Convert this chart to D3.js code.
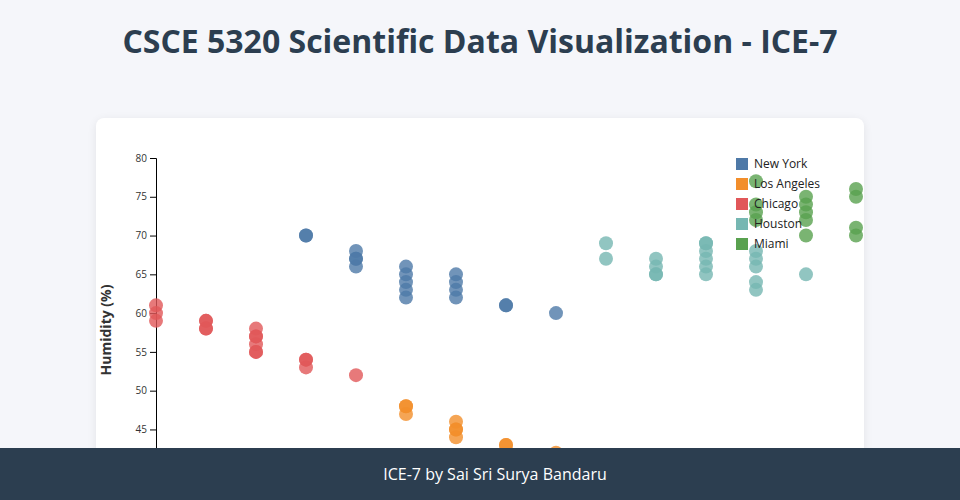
<!DOCTYPE html>
<html>
<head>
<meta charset="utf-8">
<script src="https://cdn.jsdelivr.net/npm/d3@7"></script>
<style>
  body { margin: 0; background: #f5f6fa; font-family: "Open Sans", sans-serif; width: 960px; height: 500px; overflow: hidden; position: relative; }
  h1 { margin: 0; position: absolute; top: 19px; left: 0; width: 960px; text-align: center; font-size: 32px; font-weight: 700; color: #2c3e50; }
  .card { position: absolute; left: 96px; top: 118px; width: 768px; height: 420px; background: #fff; border-radius: 8px; box-shadow: 0 2px 10px rgba(0,0,0,0.08); }
  footer { position: absolute; left: 0; top: 448px; width: 960px; height: 52px; background: #2c3e50; color: #fff; text-align: center; line-height: 52px; font-size: 16px; }
  footer span { position: relative; left: 15px; }
  svg { position: absolute; left: 0; top: 0; }
</style>
</head>
<body>
<h1>CSCE 5320 Scientific Data Visualization - ICE-7</h1>
<div class="card"><svg id="chart" width="768" height="420"></svg></div>
<footer><span>ICE-7 by Sai Sri Surya Bandaru</span></footer>
<script>
// cities + colours
var cities = ['New York', 'Los Angeles', 'Chicago', 'Houston', 'Miami'];
var colors = ['#4e79a7', '#f28e2b', '#e15759', '#76b7b2', '#59a14f'];

// [temperature, humidity] per city
var newYork = [[45,70],[45,70],[50,68],[50,67],[50,67],[50,66],[55,66],[55,65],[55,64],[55,63],[55,62],
               [60,65],[60,64],[60,63],[60,62],[65,61],[65,61],[70,60]];
var losAngeles = [[55,48],[55,48],[55,47],[60,46],[60,45],[60,45],[60,44],[65,43],[65,43],[70,42]];
var chicago = [[30,61],[30,60],[30,59],[35,59],[35,59],[35,58],[35,58],[40,58],[40,57],[40,57],[40,56],
               [40,55],[40,55],[45,54],[45,54],[45,53],[50,52]];
var houston = [[75,69],[75,67],[80,67],[80,66],[80,65],[80,65],[85,69],[85,69],[85,68],[85,67],[85,66],[85,65],
               [90,68],[90,67],[90,66],[90,64],[90,63],[95,65]];
var miami = [[90,77],[90,74],[90,73],[90,72],[95,75],[95,74],[95,73],[95,72],[95,70],
             [100,76],[100,75],[100,71],[100,70]];

var yTicks = [35, 40, 45, 50, 55, 60, 65, 70, 75, 80];

var series = [newYork, losAngeles, chicago, houston, miami];
var points = [];
series.forEach(function(s, i) {
  s.forEach(function(p) { points.push({city: cities[i], temp: p[0], hum: p[1]}); });
});

var leftPadding = 60, topPadding = 40;
var innerWidth = 700, innerHeight = 349;

var svg = d3.select('#chart');
var group = svg.append('g')
  .attr('transform', 'translate(' + leftPadding + ',' + topPadding + ')');

var xScale = d3.scaleLinear().domain([30, 100]).range([0, innerWidth]);
var yScale = d3.scaleLinear().domain([35, 80]).range([innerHeight, 0]);
var color = d3.scaleOrdinal().domain(cities).range(colors);

group.append('g')
  .attr('transform', 'translate(0,' + innerHeight + ')')
  .call(d3.axisBottom(xScale));
var yAxis = group.append('g').call(d3.axisLeft(yScale).tickValues(yTicks));
yAxis.selectAll('text').style('font-family', '"Open Sans", sans-serif').style('font-size', '10px').attr('fill', '#333');

group.append('text')
  .attr('transform', 'rotate(-90)')
  .attr('x', -172)
  .attr('y', -45)
  .attr('text-anchor', 'middle')
  .style('font-size', '14px')
  .style('font-weight', '700')
  .attr('fill', '#333')
  .text('Humidity (%)');

group.selectAll('circle')
  .data(points)
  .enter()
  .append('circle')
  .attr('cx', d => xScale(d.temp))
  .attr('cy', d => yScale(d.hum))
  .attr('r', 7)
  .attr('fill', d => color(d.city))
  .attr('opacity', 0.8);

var legend = group.append('g').attr('transform', 'translate(580,0)');
var rows = legend.selectAll('g')
  .data(cities)
  .enter()
  .append('g')
  .attr('transform', (d, i) => 'translate(0,' + (i * 20) + ')');
rows.append('rect').attr('width', 12).attr('height', 12).attr('fill', d => color(d));
rows.append('text').attr('x', 18).attr('y', 10).style('font-size', '12px').attr('fill', '#222').text(d => d);
</script>
</body>
</html>
